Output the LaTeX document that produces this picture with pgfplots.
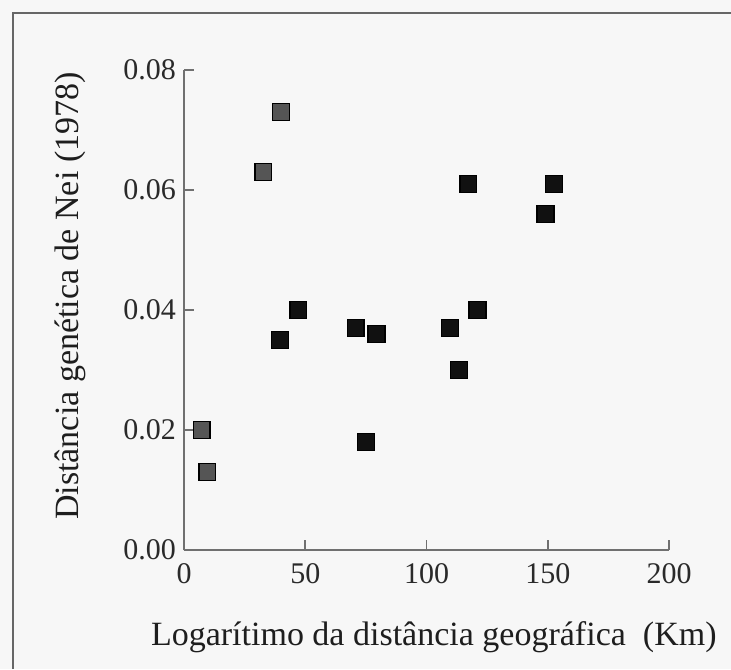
\documentclass[border=0pt]{standalone}
\usepackage{pgfplots}
\pgfplotsset{compat=1.18}
\usepackage{fontspec}
\setmainfont{Liberation Serif}
\definecolor{bg}{HTML}{F7F7F7}
\definecolor{framecol}{HTML}{666666}
\definecolor{axiscol}{HTML}{707070}
\definecolor{tickcol}{HTML}{2A2A2A}
\definecolor{labcol}{HTML}{1E1E1E}
\definecolor{grayfill}{HTML}{555555}
\definecolor{blackfill}{HTML}{111111}
\begin{document}
\begin{tikzpicture}
\useasboundingbox (0,0) rectangle (365.5pt,-334.5pt);
\fill[bg] (0,0) rectangle (365.5pt,-334.5pt);
\draw[framecol,line width=1.1pt] (6.5pt,-334.5pt) -- (6.5pt,-6.5pt) -- (365.5pt,-6.5pt);
\begin{axis}[
  at={(92pt,-275pt)}, anchor=south west,
  scale only axis, width=242.5pt, height=240pt,
  xmin=0, xmax=200, ymin=0, ymax=0.08,
  axis lines=left,
  axis line style={-, draw=axiscol, line width=1pt},
  xtick={0,50,100,150,200},
  ytick={0,0.02,0.04,0.06,0.08},
  scaled y ticks=false,
  yticklabel style={xshift=-0.5pt, /pgf/number format/.cd, fixed, fixed zerofill, precision=2},
  tick style={draw=axiscol, line width=0.8pt},
  tick align=inside, major tick length=5pt,
  /pgf/number format/assume math mode=true,
  ticklabel style={font=\fontsize{15}{17}\selectfont, text=tickcol},
  xticklabel style={yshift=-3pt},
  clip=false,
  xlabel={Logarítimo da distância geográfica\ \ (Km)},
  ylabel={Distância genética de Nei (1978)},
  xlabel style={at={(axis description cs:0.515,-0.198)}, anchor=base, font=\fontsize{17}{20}\selectfont, text=labcol},
  ylabel style={at={(axis description cs:-0.235,0.529)}, anchor=center, font=\fontsize{17}{20}\selectfont, text=labcol},
]
\addplot[only marks, mark=square*, mark size=4.2pt, mark options={fill=grayfill, draw=black, line width=0.7pt}] coordinates {
  (7.3,0.020) (9.6,0.013) (32.7,0.063) (40.0,0.073)
};
\addplot[only marks, mark=square*, mark size=4.2pt, mark options={fill=blackfill, draw=black, line width=0.7pt}] coordinates {
  (39.6,0.035) (47.1,0.040) (70.8,0.037) (75.1,0.018) (79.4,0.036)
  (109.7,0.037) (113.4,0.030) (117.2,0.061) (121.0,0.040)
  (149.1,0.056) (152.6,0.061)
};
\end{axis}
\end{tikzpicture}
\end{document}
